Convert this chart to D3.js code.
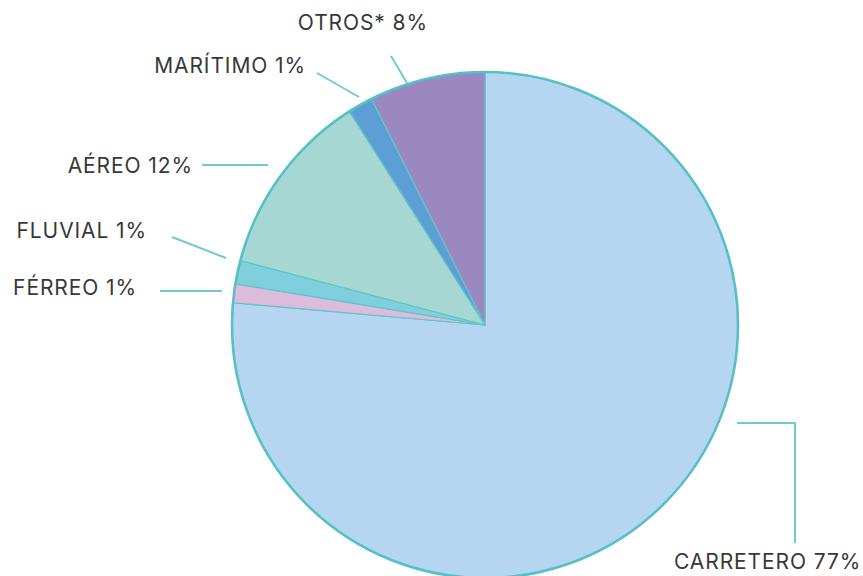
<!DOCTYPE html>
<html><head><meta charset="utf-8">
<script src="https://cdn.jsdelivr.net/npm/d3@7"></script>
<style>body{margin:0;background:#fff}svg{display:block}</style>
</head><body>
<svg id="c" width="863" height="576"></svg>
<script>
// Data
const categories = ["CARRETERO", "FÉRREO", "FLUVIAL", "AÉREO", "MARÍTIMO", "OTROS*"];
const shares = [76.4, 1.2, 1.5, 11.9, 1.6, 7.4];        // slice sizes
const labelPercents = ["77%", "1%", "1%", "12%", "1%", "8%"];
const colors = ["#b5d5f0", "#dcbcdc", "#80cfdc", "#a6d7d3", "#5d9fd5", "#9b88c0"];

// Layout (annotation placement)
const labelLayout = [
  {x: 674, y: 569, anchor: "start", line: [[737, 423], [795, 423], [795, 543]]},
  {x: 137, y: 295, anchor: "end",   line: [[160, 291], [222, 291]]},
  {x: 147, y: 238, anchor: "end",   line: [[172, 237], [226, 258]]},
  {x: 193, y: 173, anchor: "end",   line: [[202, 165], [268, 165]]},
  {x: 306, y: 73,  anchor: "end",   line: [[317, 73], [359, 97]]},
  {x: 428, y: 30,  anchor: "end",   line: [[391, 56], [407, 83]]}
];

const svg = d3.select("#c");
const cx = 485, cy = 325, R = 253;
const g = svg.append("g").attr("transform", `translate(${cx},${cy})`);

const data = categories.map((c, i) => ({name: c, value: shares[i], color: colors[i], pct: labelPercents[i], lay: labelLayout[i]}));
const pie = d3.pie().value(d => d.value).sort(null);
const arc = d3.arc().innerRadius(0).outerRadius(R);

g.selectAll("path.slice").data(pie(data)).join("path")
  .attr("class", "slice")
  .attr("d", arc)
  .attr("fill", d => d.data.color)
  .attr("stroke", "#5fc4c8")
  .attr("stroke-width", 1.2)
  .attr("stroke-linejoin", "round");

g.append("circle").attr("r", R).attr("fill", "none")
  .attr("stroke", "#56c1c5").attr("stroke-width", 2.6);

// leader lines
svg.selectAll("path.leader").data(data).join("path")
  .attr("class", "leader")
  .attr("d", d => d3.line()(d.lay.line))
  .attr("fill", "none")
  .attr("stroke", "#6fcbcf")
  .attr("stroke-width", 2);

svg.selectAll("text.lbl").data(data).join("text")
  .attr("class", "lbl")
  .attr("x", d => d.lay.x)
  .attr("y", d => d.lay.y)
  .attr("text-anchor", d => d.lay.anchor)
  .attr("font-family", "Inter, 'Open Sans', sans-serif")
  .attr("font-size", 21)
  .attr("letter-spacing", "0.9")
  .attr("fill", "#383838")
  .text(d => `${d.name} ${d.pct}`);
</script>
</body></html>
